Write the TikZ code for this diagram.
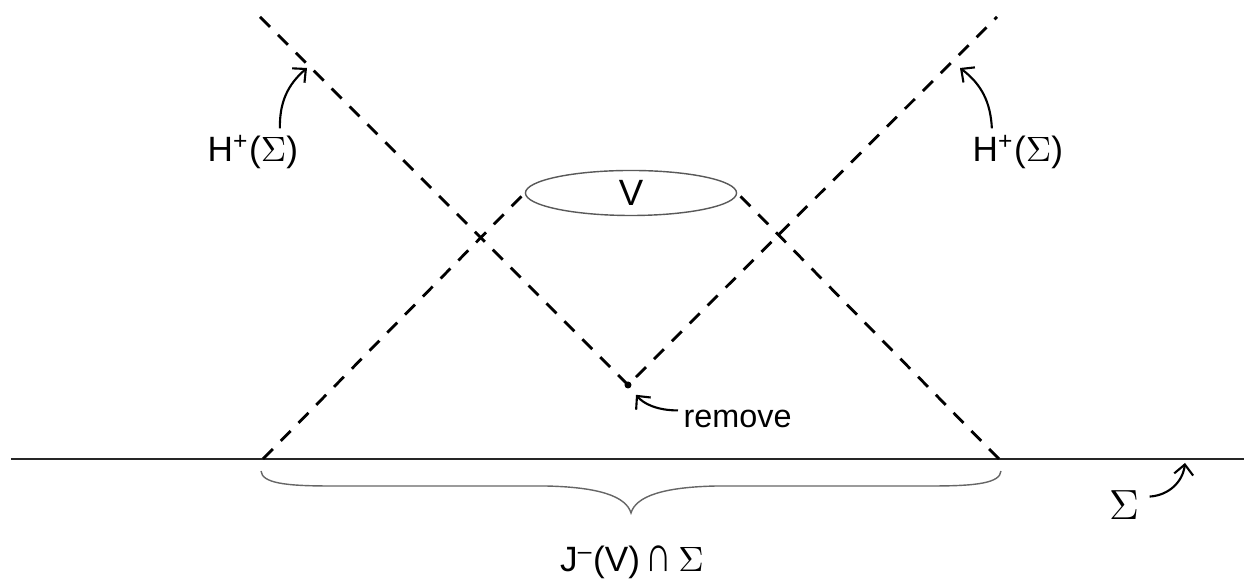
\documentclass[tikz,border=0pt]{standalone}
\usepackage{fontspec}
\usepackage{graphicx}
\setmainfont{Liberation Sans}
\usetikzlibrary{
    arrows.meta,
    positioning,
    calc,
    shapes.geometric
}
\tikzset{
    % --- Null ray (dashed light cone edge) ---
    null ray/.style = {
        line width=0.8pt,
        dash pattern=on 4pt off 3.2pt
    },
    % --- Cauchy surface line ---
    surface/.style = {
        line width=0.6pt, black!85
    },
    % --- Region V (thin ellipse) ---
    region/.style = {
        ellipse, draw=black!65, line width=0.4pt,
        minimum width=2.11cm, minimum height=0.45cm,
        inner sep=0pt, font=\fontsize{10.4}{12}\selectfont
    },
    % --- Removed point ---
    dot/.style = {
        circle, fill=black,
        minimum size=0.07cm, inner sep=0pt
    },
    % --- Annotation text ---
    annot/.style = {
        font=\fontsize{10}{12}\selectfont,
        inner sep=0pt
    },
    % --- Curved pointer arrow ---
    pointer/.style = {
        -{Straight Barb[length=1mm, width=1.9mm]},
        line width=0.6pt
    },
    % --- Brace under the surface ---
    brace line/.style = {
        line width=0.4pt, black!60
    }
}

\begin{document}
\begin{tikzpicture}[x=0.01cm, y=-0.01cm]

\useasboundingbox (0,0) rectangle (1244,580);

% ---------------------------------------------------------
% Cauchy surface
% ---------------------------------------------------------
\coordinate (SigL) at (11,459);
\coordinate (SigR) at (1244,459);
\draw[surface] (SigL) -- (SigR);

% ---------------------------------------------------------
% Region V and its past cone
% ---------------------------------------------------------
\node[region] (V) at (631,193) {V};
\coordinate (JL) at (263,459);
\coordinate (JR) at (999,459);
\draw[null ray] (JL) -- (V.west);
\draw[null ray] (JR) -- (V.east);

% removed point and the horizon through it
\node[dot] (P) at (628,385) {};
\coordinate (HL) at (260,17);
\coordinate (HR) at (997,17);
\draw[null ray] (HL) -- (P.center) -- (HR);

% ---------------------------------------------------------
% Brace under the surface
% ---------------------------------------------------------
\coordinate (BL) at (261,471);
\coordinate (BR) at (1001,471);
\coordinate (BT) at (631,513);
\draw[brace line] (BL) .. controls (262,483) and (285,486) .. (330,486)
    -- (545,486) .. controls (598,487) and (626,496) .. (BT)
    .. controls (636,496) and (664,487) .. (717,486)
    -- (932,486) .. controls (977,486) and (1000,483) .. (BR);

% ---------------------------------------------------------
% Labels and pointers
% ---------------------------------------------------------
\node[annot, anchor=base west] (HlabL) at (207,162) {H\textsuperscript{+}($\Sigma$)};
\node[annot, anchor=base west] (HlabR) at (972,162) {H\textsuperscript{+}($\Sigma$)};
\coordinate (HtipL) at (307,68);
\coordinate (HtipR) at (960,68);
\draw[pointer] ($(HlabL.north)+(27,-6)$) to[bend left=25] (HtipL);
\draw[pointer] ($(HlabR.north)+(-26,-6)$) to[bend right=25] (HtipR);

\node[annot, anchor=base west, font=\fontsize{9.2}{11}\selectfont] (Rm) at (683,428) {remove};
\draw[pointer, shorten >=2.4pt] ($(Rm.west)+(-5,-9)$) to[bend left=25] (P);

\node[annot, anchor=base, font=\fontsize{13}{15}\selectfont] (SigLab) at (1124,520) {$\Sigma$};
\coordinate (SigTip) at (1185,463);
\draw[pointer] ($(SigLab.east)+(10,-9)$) to[bend right=40] (SigTip);

\node[annot, anchor=base] (JLab) at (632,572)
    {J\textsuperscript{--}(V)\,\scalebox{1.05}[1.45]{∩}\,$\Sigma$};

\end{tikzpicture}
\end{document}
